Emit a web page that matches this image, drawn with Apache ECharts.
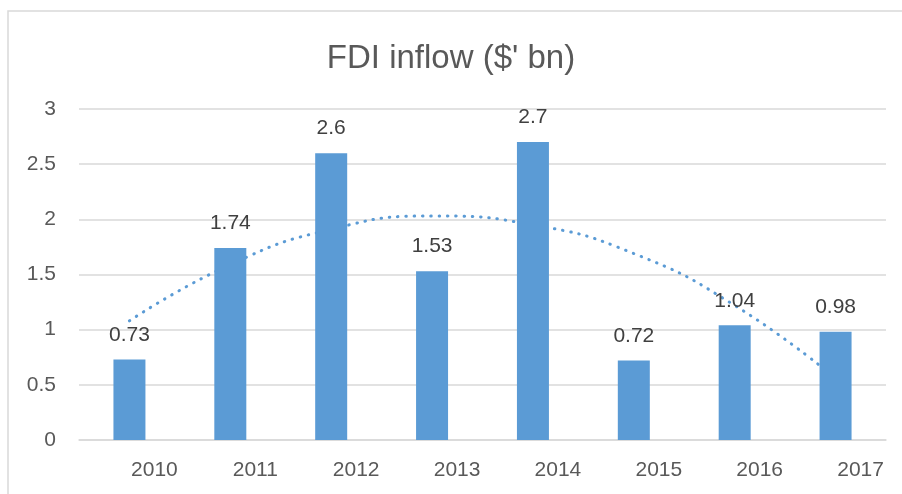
<!DOCTYPE html>
<html lang="en">
<head>
    <meta charset="UTF-8">
    <title>FDI inflow</title>
    <script src="https://cdn.jsdelivr.net/npm/echarts@6/dist/echarts.min.js"></script>
    <style type="text/css">
        html, body {
            margin: 0;
            padding: 0;
            background: #ffffff;
        }
        #main {
            width: 902px;
            height: 494px;
        }
    </style>
</head>
<body>
<div id="main"></div>
</body>
<script>
    var years = ['2010', '2011', '2012', '2013', '2014', '2015', '2016', '2017'];
    var inflow = [0.73, 1.74, 2.6, 1.53, 2.7, 0.72, 1.04, 0.98];
    // dotted trend line at each year
    var trendValues = [1.08, 1.59, 1.91, 2.03, 1.95, 1.69, 1.22, 0.56];
    var yTicks = [0, 0.5, 1, 1.5, 2, 2.5, 3];

    var textFont = '"Liberation Sans", Arial, sans-serif';

    var myChart = echarts.init(document.getElementById('main'));
    var option = {
        animation: false,
        backgroundColor: '#ffffff',
        title: {
            text: "FDI inflow ($' bn)",
            left: 'center',
            top: 37,
            textStyle: {
                fontFamily: textFont,
                fontSize: 33,
                fontWeight: 'normal',
                color: '#595959'
            }
        },
        graphic: [{
            type: 'rect',
            silent: true,
            z: -10,
            shape: {x: 8, y: 11, width: 1000, height: 600},
            style: {fill: 'none', stroke: '#d9d9d9', lineWidth: 1.5}
        }],
        grid: {
            left: 79,
            right: 16,
            top: 109,
            bottom: 54
        },
        xAxis: {
            type: 'category',
            data: years,
            axisTick: {show: false},
            axisLine: {lineStyle: {color: '#d9d9d9', width: 1.5}},
            axisLabel: {
                fontFamily: textFont,
                fontSize: 21,
                color: '#595959',
                margin: 20,
                padding: [0, 0, 0, 50]
            }
        },
        yAxis: {
            type: 'value',
            min: yTicks[0],
            max: yTicks[yTicks.length - 1],
            interval: 0.5,
            axisLine: {show: false},
            axisTick: {show: false},
            splitLine: {lineStyle: {color: '#d9d9d9', width: 1.5}},
            axisLabel: {
                fontFamily: textFont,
                fontSize: 21,
                color: '#595959',
                margin: 23
            }
        },
        series: [
            {
                name: 'trend',
                type: 'line',
                data: trendValues,
                smooth: true,
                symbol: 'none',
                z: 1,
                lineStyle: {
                    color: '#5b9bd5',
                    width: 3,
                    type: [0.5, 7.8],
                    cap: 'round'
                }
            },
            {
                name: 'FDI inflow',
                type: 'bar',
                data: inflow,
                barWidth: 32,
                z: 2,
                itemStyle: {color: '#5b9bd5'},
                label: {
                    show: true,
                    position: 'top',
                    distance: 14,
                    fontFamily: textFont,
                    fontSize: 21,
                    color: '#404040'
                }
            }
        ]
    };
    myChart.setOption(option);
</script>
</html>
